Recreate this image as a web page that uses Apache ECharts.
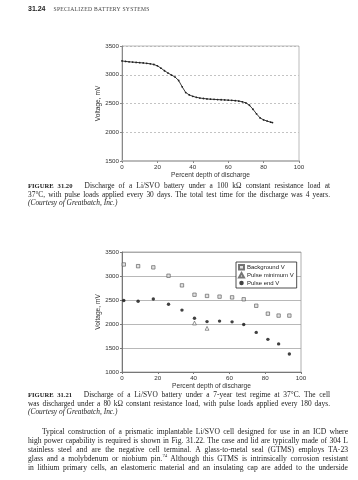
<!DOCTYPE html>
<html>
<head>
<meta charset="utf-8">
<script src="https://cdn.jsdelivr.net/npm/echarts@6/dist/echarts.min.js"></script>
<style>
  html, body { margin:0; padding:0; background:#fff; }
  #page { position:relative; width:358px; height:480px; overflow:hidden; }
  #chart { position:absolute; left:0; top:0; width:358px; height:480px; }
  .t { position:absolute; font-family:"Liberation Serif","DejaVu Serif",serif; color:#222; }
  .hdr { left:28px; top:5px; font-size:7px; white-space:nowrap; }
  .hdr b { font-family:"Liberation Sans",sans-serif; font-size:7px; margin-right:8px; }
  .hdr span { font-size:5.6px; letter-spacing:0.3px; color:#444; }
  .cap { font-size:7.4px; line-height:8.5px; width:302px; }
  .cap div, .body div { white-space:nowrap; text-align:justify; text-align-last:justify; }
  .cap div.last, .body div.last { text-align-last:left; }
  .cap b { font-weight:bold; font-size:6.6px; margin-right:8px; }
  .body { left:28px; width:320px; font-size:7.6px; line-height:9px; }
  .body div.first { padding-left:14px; }
</style>
</head>
<body>
<div id="page">
  <div id="chart"></div>
  <div class="t hdr"><b>31.24</b><span>SPECIALIZED BATTERY SYSTEMS</span></div>
  <div class="t cap" style="left:28px;top:182px;">
    <div><b>FIGURE 31.20</b> Discharge of a Li/SVO battery under a 100 kΩ constant resistance load at</div>
    <div>37°C, with pulse loads applied every 30 days. The total test time for the discharge was 4 years.</div>
    <div class="last"><i>(Courtesy of Greatbatch, Inc.)</i></div>
  </div>
  <div class="t cap" style="left:28px;top:391px;">
    <div><b>FIGURE 31.21</b> Discharge of a Li/SVO battery under a 7-year test regime at 37°C. The cell</div>
    <div>was discharged under a 80 kΩ constant resistance load, with pulse loads applied every 180 days.</div>
    <div class="last"><i>(Courtesy of Greatbatch, Inc.)</i></div>
  </div>
  <div class="t body" style="top:427px;">
    <div class="first">Typical construction of a prismatic implantable Li/SVO cell designed for use in an ICD where</div>
    <div>high power capability is required is shown in Fig. 31.22. The case and lid are typically made of 304 L</div>
    <div>stainless steel and are the negative cell terminal. A glass-to-metal seal (GTMS) employs TA-23</div>
    <div>glass and a molybdenum or niobium pin.<sup style="font-size:4.8px;line-height:0">74</sup> Although this GTMS is intrinsically corrosion resistant</div>
    <div>in lithium primary cells, an elastomeric material and an insulating cap are added to the underside</div>
  </div>
</div>
<script>
// Figure 31.20 data
var depth1 = [0,2,4,6,8,10,12,14,16,18,20,22,24,26,28,30,32,34,36,38,40,42,44,46,48,50,52,54,56,58,60,62,64,66,68,70,72,74,76,78,80,82,84,85];
var volt1  = [3240,3232,3225,3220,3215,3210,3205,3198,3190,3178,3155,3115,3070,3030,2995,2960,2900,2790,2690,2650,2625,2608,2595,2587,2580,2575,2572,2568,2565,2562,2558,2555,2550,2543,2530,2510,2470,2400,2320,2250,2215,2195,2175,2168];

// Figure 31.21 data
var depth2      = [1,9,17.5,26,33.5,40.5,47.5,54.5,61.5,68,75,81.5,87.5,93.5];
var backgroundV = [3240,3205,3180,3005,2805,2610,2585,2570,2555,2515,2380,2215,2175,2175];
var pulseEndV   = [2490,2475,2520,2410,2290,2120,2050,2060,2045,1990,1825,1680,1585,1375];
var pulseMinDepth = [40.5,47.5];
var pulseMinV     = [2020,1910];

var xTicks = [0,20,40,60,80,100];
var yTicks1 = [1500,2000,2500,3000,3500];
var yTicks2 = [1000,1500,2000,2500,3000,3500];

function pairs(xs, ys){ return xs.map(function(x,i){ return [x, ys[i]]; }); }

var font = '"Liberation Sans", Arial, sans-serif';
var axisLbl = { fontFamily: font, fontSize: 6.2, color: '#333', margin: 3, formatter: function(v){ return String(v); } };
var nameStyle = { fontFamily: font, fontSize: 6.6, color: '#333' };

var chart = echarts.init(document.getElementById('chart'), null, {renderer:'canvas'});
chart.setOption({
  animation: false,
  grid: [
    { left:122, top:46, width:177, height:115, show:true, borderColor:'#aaa', borderWidth:0.8, backgroundColor:'transparent' },
    { left:122, top:252, width:179, height:120, show:true, borderColor:'#999', borderWidth:0.8, backgroundColor:'transparent' }
  ],
  xAxis: [
    { gridIndex:0, type:'value', min:xTicks[0], max:xTicks[xTicks.length-1], interval:20,
      name:'Percent depth of discharge', nameLocation:'middle', nameGap:11, nameTextStyle:nameStyle,
      axisLine:{ lineStyle:{ color:'#bbb', width:2 } }, axisTick:{ show:true, length:2, lineStyle:{color:'#888'} },
      axisLabel: axisLbl, splitLine:{ show:false } },
    { gridIndex:1, type:'value', min:xTicks[0], max:xTicks[xTicks.length-1], interval:20,
      name:'Percent depth of discharge', nameLocation:'middle', nameGap:11, nameTextStyle:nameStyle,
      axisLine:{ lineStyle:{ color:'#777', width:1 } }, axisTick:{ show:true, length:2, lineStyle:{color:'#777'} },
      axisLabel: axisLbl, splitLine:{ show:false } }
  ],
  yAxis: [
    { gridIndex:0, type:'value', min:yTicks1[0], max:yTicks1[yTicks1.length-1], interval:500,
      name:'Voltage, mV', nameLocation:'middle', nameGap:18, nameTextStyle:nameStyle,
      axisLine:{ show:true, lineStyle:{ color:'#888', width:1 } }, axisTick:{ show:true, length:2, lineStyle:{color:'#888'} },
      axisLabel: axisLbl, splitLine:{ show:true, lineStyle:{ color:'#aaa', type:[2,2], width:0.7 } } },
    { gridIndex:1, type:'value', min:yTicks2[0], max:yTicks2[yTicks2.length-1], interval:500,
      name:'Voltage, mV', nameLocation:'middle', nameGap:18, nameTextStyle:nameStyle,
      axisLine:{ show:true, lineStyle:{ color:'#777', width:1 } }, axisTick:{ show:true, length:2, lineStyle:{color:'#777'} },
      axisLabel: axisLbl, splitLine:{ show:true, lineStyle:{ color:'#999', width:0.7 } } }
  ],
  legend: {
    show:true, orient:'vertical', left:236, top:262,
    data:['Background V','Pulse minimum V','Pulse end V'],
    itemWidth:5, itemHeight:4.5, itemGap:1.5, padding:[2,3,2,2],
    borderColor:'#222', borderWidth:0.8, backgroundColor:'#fff',
    textStyle:{ fontFamily:font, fontSize:6, color:'#222', padding:[0,0,0,-2] }
  },
  series: [
    { name:'Fig 31.20', type:'line', xAxisIndex:0, yAxisIndex:0, data: pairs(depth1, volt1),
      symbol:'circle', symbolSize:1.8, showSymbol:true, smooth:false,
      lineStyle:{ color:'#222', width:0.9 }, itemStyle:{ color:'#222' } },
    { name:'Background V', type:'scatter', xAxisIndex:1, yAxisIndex:1, data: pairs(depth2, backgroundV),
      symbol:'rect', symbolSize:3.4, itemStyle:{ color:'#ddd', borderColor:'#555', borderWidth:0.8 } },
    { name:'Pulse minimum V', type:'scatter', xAxisIndex:1, yAxisIndex:1, data: pairs(pulseMinDepth, pulseMinV),
      symbol:'triangle', symbolSize:3.8, itemStyle:{ color:'#fff', borderColor:'#555', borderWidth:0.8 } },
    { name:'Pulse end V', type:'scatter', xAxisIndex:1, yAxisIndex:1, data: pairs(depth2, pulseEndV),
      symbol:'circle', symbolSize:3.4, itemStyle:{ color:'#111' } }
  ]
});
</script>
</body>
</html>
